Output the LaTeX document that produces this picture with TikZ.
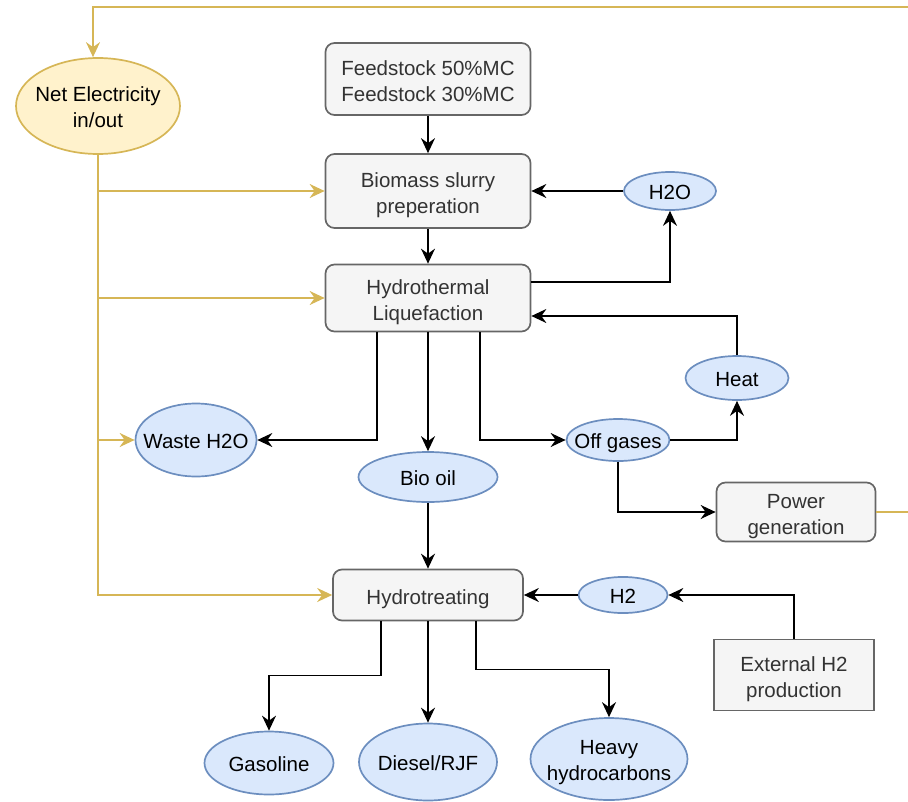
\documentclass[tikz,border=0pt]{standalone}
\usepackage{fontspec}
\setmainfont{Liberation Sans}
\usetikzlibrary{shapes.geometric,arrows.meta}

\definecolor{boxfill}{HTML}{F5F5F5}
\definecolor{boxline}{HTML}{666666}
\definecolor{boxtext}{HTML}{333333}
\definecolor{streamfill}{HTML}{DAE8FC}
\definecolor{streamline}{HTML}{6C8EBF}
\definecolor{elecfill}{HTML}{FFF2CC}
\definecolor{elecline}{HTML}{D6B656}

% centred label, lowered a little inside its shape
\newcommand\boxtxt[1]{\raisebox{-4.5pt}[\height][\depth]{\begin{tabular}{@{}c@{}}#1\end{tabular}}}
% label of no width, so an ellipse keeps its given size
\newcommand\ovaltxt[1]{\makebox[0pt]{\raisebox{-3.5pt}[\height][\depth]{\begin{tabular}{@{}c@{}}#1\end{tabular}}}}

\tikzset{
  txt/.style={font=\fontsize{20.5}{25.5}\selectfont, inner sep=0pt},
  procbox/.style={txt, rectangle, rounded corners=9pt, draw=boxline, fill=boxfill,
    text=boxtext, line width=1.7pt},
  plainbox/.style={procbox, rounded corners=0pt},
  stream/.style={txt, ellipse, draw=streamline, fill=streamfill, text=black, line width=1.7pt},
  elecnode/.style={txt, ellipse, draw=elecline, fill=elecfill, text=black, line width=1.7pt},
  flow/.style={draw=black, line width=1.7pt, -{Stealth[length=15pt,width=14pt,inset=5pt]}},
  eflow/.style={draw=elecline, line width=1.7pt, -{Stealth[length=15pt,width=14pt,inset=5pt]}},
}

\begin{document}
\begin{tikzpicture}[x=1pt,y=-1pt]
\useasboundingbox (0,0) rectangle (908,801);
\clip (0,0) rectangle (908,801);

% process units
\node[procbox, minimum width=205pt, minimum height=72pt] (feed) at (428,79)
  {\boxtxt{Feedstock 50\%MC\\Feedstock 30\%MC}};
\node[procbox, minimum width=205pt, minimum height=74pt] (slurry) at (428,191)
  {\boxtxt{Biomass slurry\\preperation}};
\node[procbox, minimum width=205pt, minimum height=67pt] (htl) at (428,298)
  {\boxtxt{Hydrothermal\\Liquefaction}};
\node[procbox, minimum width=159pt, minimum height=59pt] (power) at (796,512)
  {\boxtxt{Power\\generation}};
\node[procbox, minimum width=190pt, minimum height=51pt] (hyd) at (428,595)
  {\boxtxt{Hydrotreating}};
\node[plainbox, minimum width=160pt, minimum height=71pt] (ext) at (794,675)
  {\boxtxt{External H2\\production}};

% streams
\node[elecnode, minimum width=164pt, minimum height=96pt] (elec) at (98,106)
  {\ovaltxt{Net Electricity\\in/out}};
\node[stream, minimum width=92pt, minimum height=38pt] (h2o) at (670,191) {\ovaltxt{H2O}};
\node[stream, minimum width=103pt, minimum height=44pt] (heat) at (737,378) {\ovaltxt{Heat}};
\node[stream, minimum width=103pt, minimum height=42pt] (off) at (618,440) {\ovaltxt{Off gases}};
\node[stream, minimum width=121pt, minimum height=73pt] (waste) at (196,440) {\ovaltxt{Waste H2O}};
\node[stream, minimum width=139pt, minimum height=50pt] (bio) at (428,477) {\ovaltxt{Bio oil}};
\node[stream, minimum width=89pt, minimum height=36pt] (h2) at (623,595) {\ovaltxt{H2}};
\node[stream, minimum width=129pt, minimum height=63pt] (gas) at (269,763) {\ovaltxt{Gasoline}};
\node[stream, minimum width=138pt, minimum height=77pt] (diesel) at (428,762) {\ovaltxt{Diesel/RJF}};
\node[stream, minimum width=157pt, minimum height=82pt] (heavy) at (609,759)
  {\ovaltxt{Heavy\\hydrocarbons}};

% material and heat flows
\draw[flow] (feed.south) -- (slurry.north);
\draw[flow] (h2o.west) -- (slurry.east);
\draw[flow] (slurry.south) -- (htl.north);
\draw[flow] ([yshift=16pt]htl.east) -| (h2o.south);
\draw[flow] (heat.north) |- ([yshift=-18pt]htl.east);
\draw[flow] ([xshift=-51pt]htl.south) |- (waste.east);
\draw[flow] (htl.south) -- (bio.north);
\draw[flow] ([xshift=52pt]htl.south) |- (off.west);
\draw[flow] (off.east) -| (heat.south);
\draw[flow] (off.south) |- (power.west);
\draw[flow] (bio.south) -- (hyd.north);
\draw[flow] (h2.west) -- (hyd.east);
\draw[flow] (ext.north) |- (h2.east);
\draw[flow] ([xshift=-47pt]hyd.south) -- ++(0,54) -| (gas.north);
\draw[flow] (hyd.south) -- (diesel.north);
\draw[flow] ([xshift=48pt]hyd.south) -- ++(0,48) -| (heavy.north);

% electricity network
\draw[eflow] (elec.south) |- (hyd.west);
\draw[eflow] (elec.south |- slurry.west) -- (slurry.west);
\draw[eflow] (elec.south |- htl.west) -- (htl.west);
\draw[eflow] (elec.south |- waste.west) -- (waste.west);
\coordinate (ret) at (930,7);
\draw[eflow] (power.east) -| (ret) -| ([xshift=-5pt]elec.north);
\end{tikzpicture}
\end{document}
